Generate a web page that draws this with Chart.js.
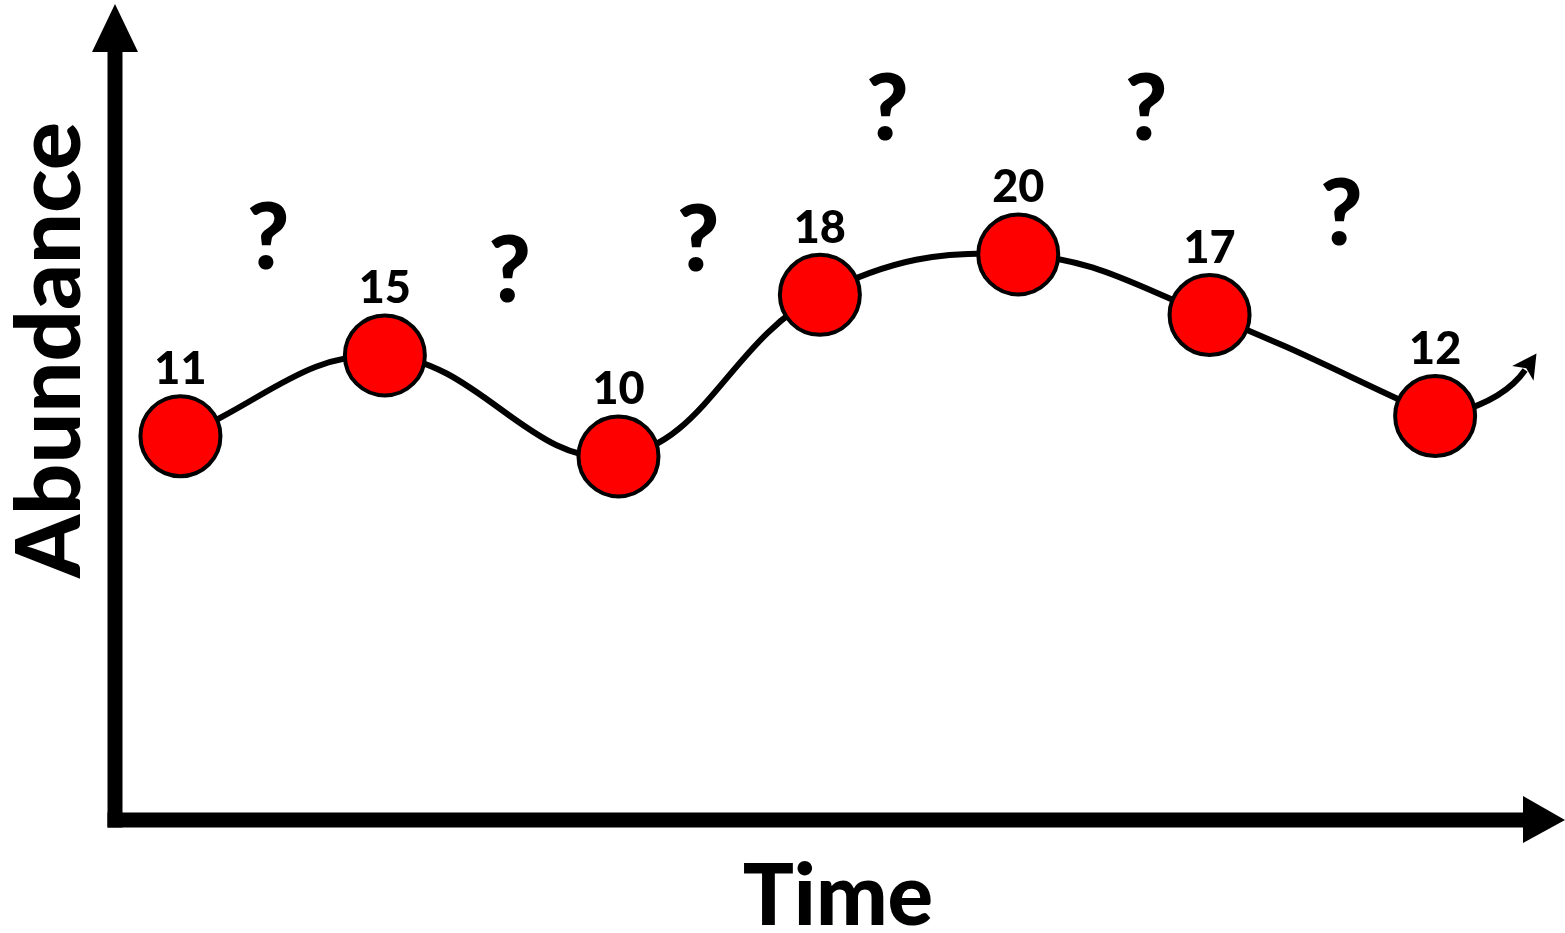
<!DOCTYPE html>
<html>
<head>
<meta charset="utf-8">
<script src="https://cdn.jsdelivr.net/npm/chart.js@4"></script>
<style>
  html, body { margin: 0; padding: 0; background: #ffffff; }
  #wrap { width: 1565px; height: 933px; }
</style>
</head>
<body>
<div id="wrap"><canvas id="chart" width="1565" height="933"></canvas></div>
<script>
// Sampled abundance over time
const sampleTimes = [0.65, 2.68, 5.0, 7.0, 8.97, 10.87, 13.11];
const abundance = [11, 15, 10, 18, 20, 17, 12];

// Unsampled stretches, marked with "?"
const unknownTimes = [1.52, 3.92, 5.79, 7.67, 10.24, 12.18];
const unknownLevels = [20.9, 19.3, 20.8, 27.3, 27.3, 22.1];

const xTitle = 'Time';
const yTitle = 'Abundance';

const FONT = 'Lato, "Open Sans", "DejaVu Sans", sans-serif';
const WEIGHT = '900';

// Thick arrowed axes drawn along the chart area edges
const arrowAxes = {
  id: 'arrowAxes',
  afterDraw(chart) {
    const ctx = chart.ctx;
    const { left, top, bottom } = chart.chartArea;
    const w = 15;
    ctx.save();
    ctx.fillStyle = '#000000';
    // vertical axis shaft + head
    ctx.fillRect(left - w / 2, top + 40, w, bottom + w / 2 - (top + 40));
    ctx.beginPath();
    ctx.moveTo(left - 23, top + 40);
    ctx.lineTo(left + 23, top + 40);
    ctx.lineTo(left, top - 8);
    ctx.closePath();
    ctx.fill();
    // horizontal axis shaft + head
    const tipX = chart.width;
    ctx.fillRect(left - w / 2, bottom - w / 2, tipX - 42 - (left - w / 2), w);
    ctx.beginPath();
    ctx.moveTo(tipX - 42, bottom - 24);
    ctx.lineTo(tipX - 42, bottom + 23);
    ctx.lineTo(tipX, bottom);
    ctx.closePath();
    ctx.fill();
    // vertical axis title, running bottom to top
    ctx.save();
    ctx.translate(left - 35, 350);
    ctx.rotate(-Math.PI / 2);
    ctx.font = WEIGHT + ' 90px ' + FONT;
    ctx.textAlign = 'center';
    ctx.textBaseline = 'alphabetic';
    ctx.fillText(yTitle, 0, 0);
    ctx.restore();
    ctx.restore();
  }
};

// Curved arrow continuing the trend past the last sample
const trendArrow = {
  id: 'trendArrow',
  beforeDatasetsDraw(chart) {
    const meta = chart.getDatasetMeta(0);
    const last = meta.data[meta.data.length - 1];
    if (!last) return;
    const ctx = chart.ctx;
    const px = last.x, py = last.y;
    const ex = px + 90, ey = py - 46;
    const cx = px + 70, cy = py - 17;
    ctx.save();
    ctx.strokeStyle = '#000000';
    ctx.lineWidth = 6;
    ctx.beginPath();
    ctx.moveTo(px + 20, py - 3);
    ctx.quadraticCurveTo(cx, cy, ex, ey);
    ctx.stroke();
    let dx = ex - cx, dy = ey - cy;
    const len = Math.hypot(dx, dy);
    dx /= len; dy /= len;
    const tx = ex + dx * 20, ty = ey + dy * 20;
    const bx = ex - dx * 4, by = ey - dy * 4;
    ctx.fillStyle = '#000000';
    ctx.beginPath();
    ctx.moveTo(tx, ty);
    ctx.lineTo(bx - dy * 13, by + dx * 13);
    ctx.lineTo(ex + dx * 2, ey + dy * 2);
    ctx.lineTo(bx + dy * 13, by - dx * 13);
    ctx.closePath();
    ctx.fill();
    ctx.restore();
  }
};

// Value labels above each sample and "?" marks in the gaps
const annotations = {
  id: 'annotations',
  afterDatasetsDraw(chart) {
    const ctx = chart.ctx;
    const meta = chart.getDatasetMeta(0);
    const xs = chart.scales.x, ys = chart.scales.y;
    ctx.save();
    ctx.fillStyle = '#000000';
    ctx.textAlign = 'center';
    ctx.textBaseline = 'alphabetic';
    ctx.font = WEIGHT + ' 45px ' + FONT;
    meta.data.forEach((pt, i) => {
      ctx.fillText(String(abundance[i]), pt.x, pt.y - 52);
    });
    ctx.font = WEIGHT + ' 92px ' + FONT;
    unknownTimes.forEach((t, i) => {
      ctx.fillText('?', xs.getPixelForValue(t), ys.getPixelForValue(unknownLevels[i]) + 33);
    });
    ctx.restore();
  }
};

function draw() {
  new Chart(document.getElementById('chart'), {
    type: 'line',
    data: {
      datasets: [{
        data: sampleTimes.map((t, i) => ({ x: t, y: abundance[i] })),
        borderColor: '#000000',
        borderWidth: 6,
        tension: 0.4,
        fill: false,
        pointRadius: 40,
        pointBorderWidth: 4,
        pointBackgroundColor: '#ff0000',
        pointBorderColor: '#000000',
        clip: false
      }]
    },
    options: {
      responsive: false,
      animation: false,
      events: [],
      devicePixelRatio: 1,
      layout: { autoPadding: false, padding: { top: 12, right: 4, bottom: 0, left: 0 } },
      plugins: { legend: { display: false }, tooltip: { enabled: false } },
      scales: {
        x: {
          type: 'linear',
          min: 0,
          max: 14.36,
          grid: { display: false, drawTicks: false },
          border: { display: false },
          ticks: { display: false },
          title: {
            display: true,
            text: xTitle,
            color: '#000000',
            font: { family: FONT, size: 85, weight: WEIGHT, lineHeight: 0.8 },
            padding: { top: 44, bottom: 1 }
          }
        },
        y: {
          type: 'linear',
          min: -8,
          max: 32,
          grid: { display: false, drawTicks: false },
          border: { display: false },
          ticks: { display: false },
          title: { display: false },
          afterFit(scale) { scale.width = 115; }
        }
      }
    },
    plugins: [trendArrow, annotations, arrowAxes]
  });
}

if (document.fonts && document.fonts.load) {
  Promise.all([
    document.fonts.load('900 45px Lato'),
    document.fonts.load('900 90px Lato')
  ]).then(draw, draw);
} else {
  draw();
}
</script>
</body>
</html>
